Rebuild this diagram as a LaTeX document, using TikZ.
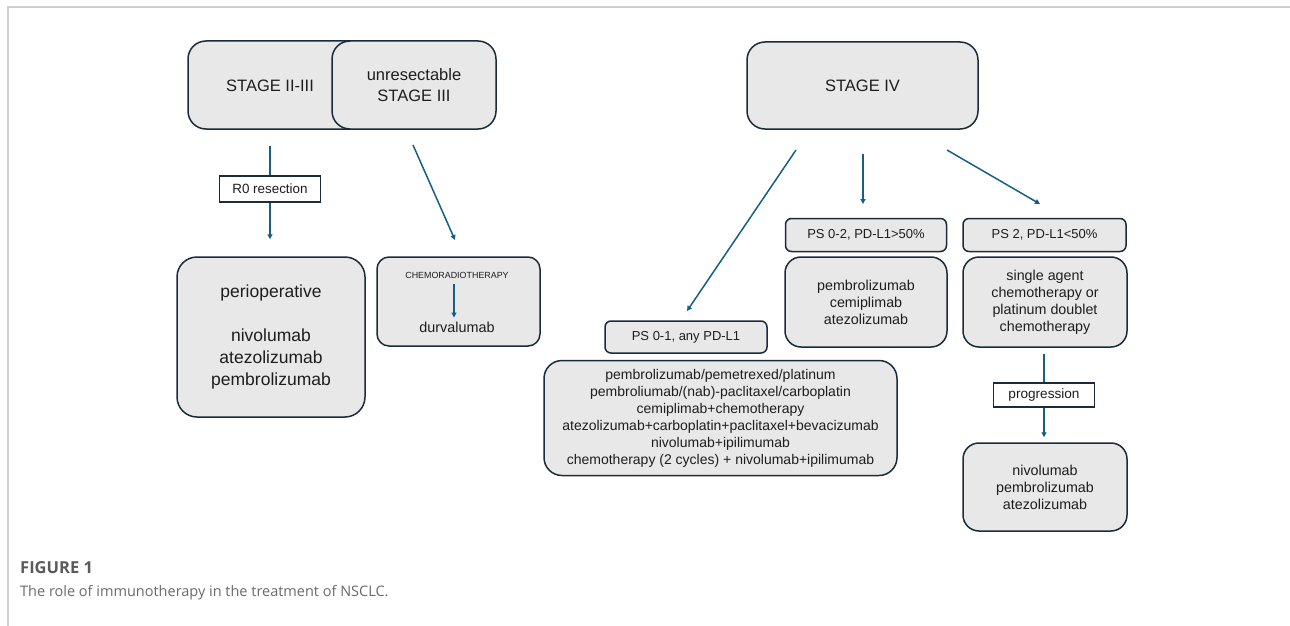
\documentclass[tikz,border=0pt]{standalone}
\usepackage{fontspec}
\setmainfont{Liberation Sans}
\newfontfamily\capfont{Open Sans}
\usetikzlibrary{arrows.meta}
\definecolor{boxfill}{HTML}{E8E8E8}
\definecolor{boxline}{HTML}{1A2B3C}
\definecolor{arrowc}{HTML}{156082}
\definecolor{framec}{HTML}{D0D0D0}
\definecolor{txtc}{HTML}{1E1E1E}
\definecolor{capbold}{HTML}{5A5A5A}
\definecolor{captext}{HTML}{6A6A6A}
\newcommand{\fsz}[2]{\fontsize{#1pt}{#2pt}\selectfont}
\begin{document}
\begin{tikzpicture}[x=1pt,y=-1pt,
  rbox/.style={draw=boxline,fill=boxfill,line width=1.5pt,rounded corners=#1,
    align=center,inner sep=0pt,text=txtc},
  rbox/.default=6pt,
  lbox/.style={draw=boxline,fill=white,line width=1.5pt,align=center,inner sep=0pt,text=txtc},
  conn/.style={draw=arrowc,line width=1.5pt},
  arr/.style={conn,-{Triangle[length=5pt,width=5pt]}},
]
\useasboundingbox (0,0) rectangle (1290,626);
% frame
\draw[framec,line width=1.5pt] (8,626) -- (8,7) -- (1290,7);

% stage boxes
\node[rbox=18pt,minimum width=192pt,minimum height=88pt] (s23) at (284,85) {};
\node[font=\fsz{16.5}{21},text=txtc] (s23t) at (270,86) {STAGE II-III};
\node[rbox=18pt,minimum width=164pt,minimum height=88pt,font=\fsz{16.5}{21}] (unres) at (414,85) {unresectable\\STAGE III};
\node[rbox=18pt,minimum width=231pt,minimum height=87pt,font=\fsz{16.5}{21}] (s4) at (862.5,85.5) {STAGE IV};

% left branch
\node[lbox,minimum width=101pt,minimum height=26pt,font=\fsz{13.4}{16}] (r0) at (270,189) {R0 resection};
\node[rbox=20pt,minimum width=188pt,minimum height=160pt,font=\fsz{17.5}{22}] (periop) at (271,337)
  {perioperative\\[22pt]nivolumab\\atezolizumab\\pembrolizumab};
\draw[conn,shorten <=16pt] (s23.south -| r0.north) -- (r0.north);
\draw[arr,shorten >=17pt] (r0.south) -- (r0.south |- periop.north);

% unresectable branch
\node[rbox=12pt,minimum width=163pt,minimum height=89pt] (chemo) at (458.5,301.5) {};
\node[font=\fsz{8.9}{10},text=txtc,inner sep=0pt] (crt) at (457,275) {CHEMORADIOTHERAPY};
\node[font=\fsz{14.4}{17},text=txtc,inner sep=0pt] (durv) at (457,327) {durvalumab};
\draw[arr,shorten <=6pt,shorten >=4pt] ([xshift=-3pt]crt.south) -- ([xshift=-3pt]durv.north);
\coordinate (u1) at (413,145);
\coordinate (u2) at (455,240);
\draw[arr] (u1) -- (u2);

% stage IV branches
\node[rbox=6pt,minimum width=162pt,minimum height=32pt,font=\fsz{13}{16}] (ps01) at (686,337) {PS 0-1, any PD-L1};
\node[rbox=18pt,minimum width=353pt,minimum height=115pt,font=\fsz{14}{17}] (big) at (720.5,418)
  {pembrolizumab/pemetrexed/platinum\\pembroliumab/(nab)-paclitaxel/carboplatin\\cemiplimab+chemotherapy\\atezolizumab+carboplatin+paclitaxel+bevacizumab\\nivolumab+ipilimumab\\chemotherapy (2 cycles) + nivolumab+ipilimumab};

\node[rbox=6pt,minimum width=161pt,minimum height=33pt,font=\fsz{13}{16}] (ps02) at (866,235) {PS 0-2, PD-L1>50\%};
\node[rbox=16pt,minimum width=162pt,minimum height=90pt,font=\fsz{14.3}{17}] (pcb) at (866,302)
  {pembrolizumab\\cemiplimab\\atezolizumab};

\node[rbox=6pt,minimum width=163pt,minimum height=33pt,font=\fsz{13}{16}] (ps2) at (1044.5,235) {PS 2, PD-L1<50\%};
\node[rbox=16pt,minimum width=164pt,minimum height=90pt,font=\fsz{14.3}{17}] (single) at (1045,302)
  {single agent\\chemotherapy or\\platinum doublet\\chemotherapy};
\node[lbox,minimum width=101pt,minimum height=24pt,font=\fsz{13.6}{16}] (prog) at (1044,395) {progression};
\node[rbox=16pt,minimum width=164pt,minimum height=88pt,font=\fsz{14.3}{17}] (nivo) at (1045,487)
  {nivolumab\\pembrolizumab\\atezolizumab};
\draw[conn,shorten <=6pt] (single.south -| prog.north) -- (prog.north);
\draw[arr,shorten >=5pt] (prog.south) -- (prog.south |- nivo.north);

\coordinate (v1) at (796,150);
\coordinate (v2) at (687,311);
\draw[arr] (v1) -- (v2);
\coordinate (m1) at (863,154);
\coordinate (m2) at (863,204);
\draw[arr] (m1) -- (m2);
\coordinate (w1) at (947,150);
\coordinate (w2) at (1040,204);
\draw[arr] (w1) -- (w2);

% caption
\node[anchor=west,inner sep=0pt,font=\capfont\bfseries\fsz{16.5}{19},text=capbold] (fig) at (20,568) {FIGURE 1};
\node[anchor=west,inner sep=0pt,font=\capfont\fsz{14.5}{17},text=captext] (cap) at (20,593) {The role of immunotherapy in the treatment of NSCLC.};
\end{tikzpicture}
\end{document}
